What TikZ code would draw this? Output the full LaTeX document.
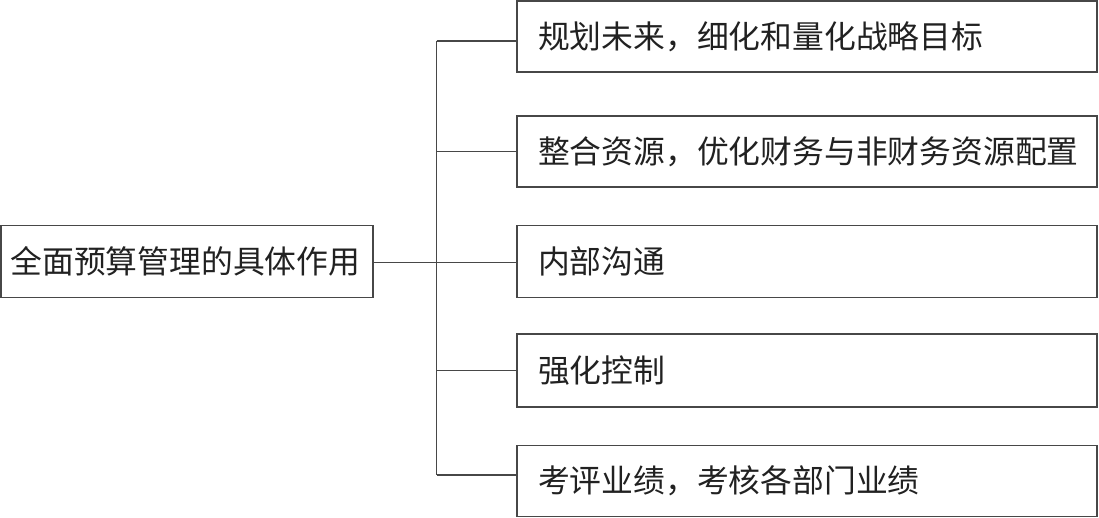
\documentclass[tikz,border=0pt]{standalone}
\usepackage{fontspec}
\setmainfont{Noto Sans CJK SC}
\begin{document}
\begin{tikzpicture}[x=1pt,y=-1pt,
  every node/.style={font=\fontsize{31.8pt}{34pt}\selectfont, text=black!87},
  rootbox/.style={draw=black!72, line width=1.4pt, minimum width=372pt, minimum height=72pt, inner sep=0pt, inner xsep=9.5pt, text width=353pt, align=left, anchor=center},
  leafbox/.style={draw=black!72, line width=1.4pt, minimum height=71pt, text width=538pt, inner xsep=21pt, inner ysep=0pt, align=left, anchor=center},
  link/.style={draw=black!72, line width=1.4pt}]
\useasboundingbox (0,0) rectangle (1099,518);
\node[rootbox] (root) at (187,261.3) {全面预算管理的具体作用};
\node[leafbox] (b1) at (807,36.5) {\raisebox{-3.5pt}{规划未来，细化和量化战略目标}};
\node[leafbox] (b2) at (807,151.5) {整合资源，优化财务与非财务资源配置};
\node[leafbox, minimum height=72pt] (b3) at (807,261.3) {内部沟通};
\node[leafbox, minimum height=73pt] (b4) at (807,370.5) {强化控制};
\node[leafbox] (b5) at (807,481.2) {考评业绩，考核各部门业绩};
\coordinate (top) at (436.7,41);
\coordinate (bot) at (436.7,475);
\coordinate (mid) at (436.7,262.7);
\draw[link] (top) -- (bot);
\draw[link] ([yshift=-1.4pt]root.east) -- (mid);
\draw[link] (top) -- ([yshift=-4.5pt]b1.west);
\draw[link] (top |- b2.west) -- (b2.west);
\draw[link] (mid) -- ([yshift=-1.4pt]b3.west);
\draw[link] (top |- b4.west) -- (b4.west);
\draw[link] (bot) -- ([yshift=6.2pt]b5.west);
\end{tikzpicture}
\end{document}
